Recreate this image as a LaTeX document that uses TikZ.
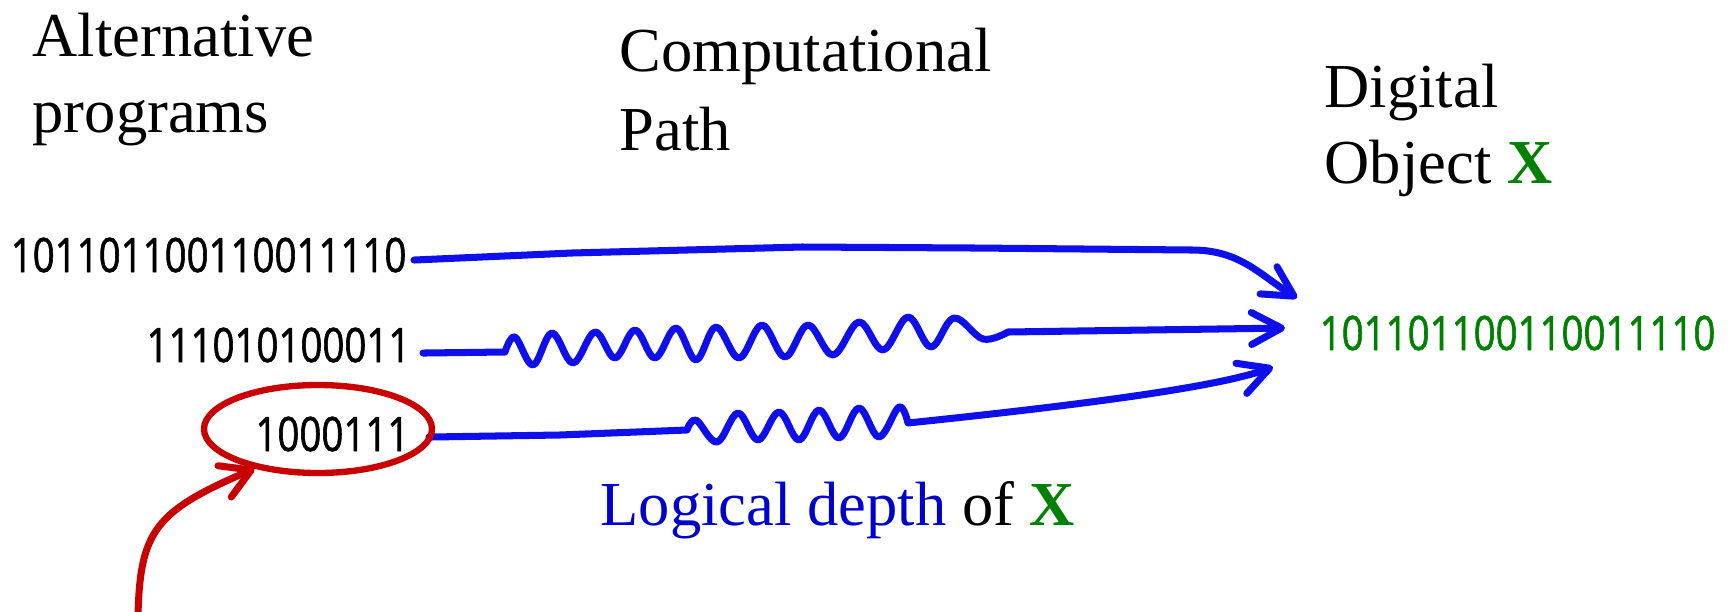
\documentclass[tikz,border=0pt]{standalone}
\usepackage{fontspec}
\setmainfont{Liberation Serif}
\newfontfamily\bitfont{Open Sans}[FakeStretch=0.81, FakeBold=1.2]
\usetikzlibrary{arrows.meta,shapes.geometric}
\definecolor{xgreen}{RGB}{0,128,0}
\definecolor{depthblue}{RGB}{0,0,204}
\definecolor{penblue}{RGB}{15,15,235}
\definecolor{penred}{RGB}{200,0,0}

\begin{document}
\begin{tikzpicture}[
  heading/.style={anchor=north west, align=left, inner sep=0pt},
  bits/.style={inner sep=0pt, font=\bitfont\fontsize{13.5}{16}\selectfont},
  flow/.style={
    draw=penblue, line width=2pt, line cap=round, line join=round,
    -{Straight Barb[length=3mm, width=3.2mm, round]}
  },
  ring/.style={
    ellipse, draw=penred, line width=1.8pt, inner sep=0pt,
    minimum width=2.28cm, minimum height=0.88cm
  },
  cuearrow/.style={
    draw=penred, line width=2pt, line cap=round,
    -{Straight Barb[length=2.9mm, width=3.4mm, round]}
  }
]
\useasboundingbox (0,0) rectangle (17.32,6.11);

% --- Headings ---
\node[heading, font=\fontsize{17.8}{21.6}\selectfont] (alt) at (0.32,5.99)
  {Alternative\\programs};
\node[heading, font=\fontsize{17.8}{22.5}\selectfont] (comp) at (6.19,5.84)
  {Computational\\Path};
\node[heading, font=\fontsize{17.8}{21.7}\selectfont] (dig) at (13.24,5.48)
  {Digital\\Object \textbf{\textcolor{xgreen}{X}}};

% --- Programs and object ---
\node[bits, anchor=base east] (bitA) at (4.07,3.39) {101101100110011110};
\node[bits, anchor=base east] (bitB) at (4.11,2.49) {111010100011};
\node[bits, anchor=base east] (bitC) at (4.10,1.60) {1000111};
\node[bits, anchor=base west, text=xgreen] (target) at (13.19,2.61) {101101100110011110};

% --- Computational paths ---
\draw[flow] ([xshift=0.7mm, yshift=-0.5mm]bitA.east) -- (5.72,3.58) -- (8.02,3.64)
  -- (9.74,3.63) -- (11.92,3.61)
  .. controls (12.4,3.61) and (12.6,3.36) .. ([xshift=-2.2mm, yshift=3.5mm]target.west);

\draw[flow] ([xshift=1.2mm, yshift=-0.8mm]bitB.east)
  -- plot[smooth, tension=0.6] coordinates {(5.05,2.59) (5.15,2.74) (5.33,2.46)
    (5.52,2.78) (5.73,2.48) (5.95,2.79) (6.15,2.53) (6.35,2.81) (6.55,2.53)
    (6.76,2.83) (6.96,2.51) (7.16,2.84) (7.39,2.53) (7.62,2.86) (7.85,2.54)
    (8.08,2.86) (8.33,2.56) (8.59,2.89) (8.83,2.61) (9.08,2.94) (9.31,2.64)
    (9.54,2.93) (9.83,2.72) (10.08,2.79)}
  -- ([xshift=-3.4mm, yshift=0.5mm]target.west);

\draw[flow] ([xshift=1.9mm, yshift=-0.3mm]bitC.east) -- (5.6,1.76)
  -- plot[smooth, tension=0.6] coordinates {(6.87,1.81) (6.96,1.91) (7.17,1.69)
    (7.38,1.98) (7.58,1.71) (7.79,1.99) (7.99,1.71) (8.19,2.01) (8.39,1.73)
    (8.59,2.03) (8.79,1.74) (8.99,2.04) (9.08,1.88)}
  .. controls (11.0,2.08) and (12.2,2.25) .. ([xshift=-4.6mm, yshift=-3.4mm]target.west);

\node[anchor=base west, inner sep=0pt, font=\fontsize{17.8}{20}\selectfont] (depth)
  at (6.00,0.86) {\textcolor{depthblue}{Logical depth} of \textbf{\textcolor{xgreen}{X}}};

% --- Shortest program ---
\node[ring] (pick) at (3.18,1.82) {};
\coordinate (cue) at (1.38,-0.05);
\draw[cuearrow] (cue) .. controls (1.40,0.80) and (1.55,1.00) .. (pick.212);

\end{tikzpicture}
\end{document}
